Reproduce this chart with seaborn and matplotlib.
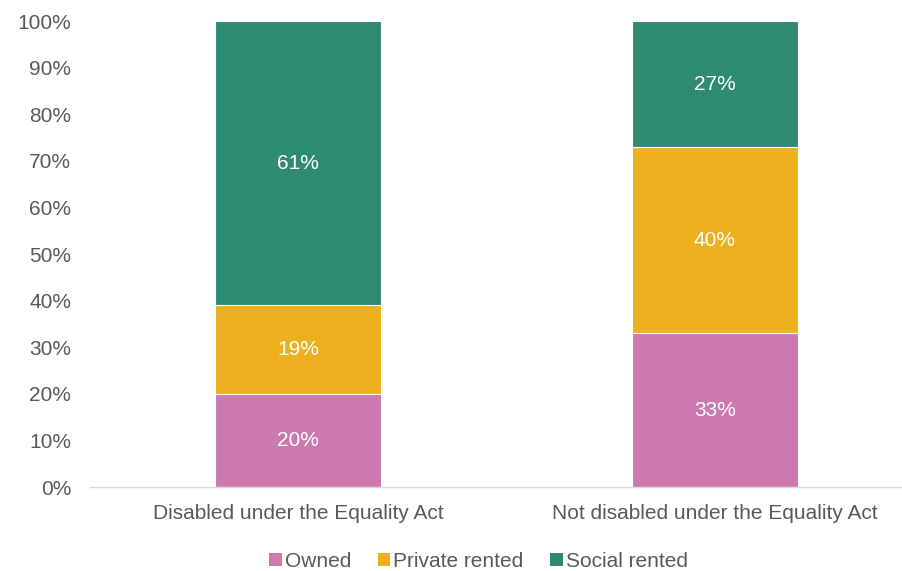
import matplotlib
matplotlib.use("Agg")
import matplotlib.pyplot as plt
import seaborn as sns
import pandas as pd
import numpy as np
from matplotlib.patches import Patch

# data
groups = ["Disabled under the Equality Act", "Not disabled under the Equality Act"]
tenures = ["Owned", "Private rented", "Social rented"]
owned = [20, 33]
private_rented = [19, 40]
social_rented = [61, 27]

colors = {"Owned": "#CC79AF", "Private rented": "#ECB01E", "Social rented": "#2F8A72"}
grey = "#595959"

sns.set_theme(style="white")
plt.rcParams["font.family"] = ["Liberation Sans", "DejaVu Sans"]

fig = plt.figure(figsize=(9.03, 5.71), dpi=100)
ax = fig.add_axes([0.0997, 0.147, 0.9003, 0.816])

vals = np.array([owned, private_rented, social_rented], dtype=float)
cum = vals.cumsum(axis=0)

# draw cumulative totals from the top segment down so they stack visually
for i in range(len(tenures) - 1, -1, -1):
    df = pd.DataFrame({"group": groups, "value": cum[i]})
    sns.barplot(data=df, x="group", y="value", color=colors[tenures[i]],
                width=0.398, edgecolor="white", linewidth=0.8,
                saturation=1, ax=ax)

# segment labels
for i, t in enumerate(tenures):
    for j in range(len(groups)):
        mid = cum[i, j] - vals[i, j] / 2
        ax.text(j, mid, f"{vals[i, j]:.0f}%", ha="center", va="center",
                color="white", fontsize=15)

ax.set_xlim(-0.499, 1.451)
ax.set_ylim(0, 100)
ax.set_yticks(range(0, 101, 10))
ax.set_yticklabels([f"{v}%" for v in range(0, 101, 10)])
ax.set_xlabel("")
ax.set_ylabel("")
ax.tick_params(axis="both", colors=grey, labelsize=15, length=0)
ax.tick_params(axis="y", pad=13.5)
ax.tick_params(axis="x", pad=12)
for s in ["top", "right", "left"]:
    ax.spines[s].set_visible(False)
ax.spines["bottom"].set_color("#D9D9D9")
ax.spines["bottom"].set_linewidth(1)

handles = [Patch(facecolor=colors[t], edgecolor="none", label=t) for t in tenures]
fig.legend(handles=handles, loc="lower center", bbox_to_anchor=(0.53, -0.032),
           ncol=3, frameon=False, fontsize=15, labelcolor=grey,
           handlelength=0.6, handleheight=0.6, handletextpad=0.15,
           columnspacing=1.28)

fig.savefig("out.png", dpi=100)
